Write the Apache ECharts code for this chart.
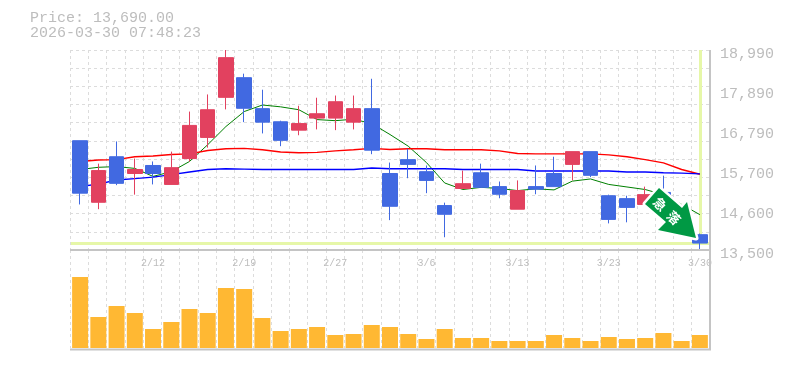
<!DOCTYPE html>
<html><head><meta charset="utf-8">
<style>html,body{margin:0;padding:0;background:#fff}#c{width:785px;height:370px}</style>
<script src="https://cdn.jsdelivr.net/npm/echarts@6/dist/echarts.min.js"></script>
</head><body><div id="c"></div>
<script>
var titleLines = ['Price: 13,690.00', '2026-03-30 07:48:23'];
var currentPrice = 13690;
var priceTicks = [13500, 14598, 15696, 16794, 17892, 18990];
var categories = ['2/5','2/6','2/9','2/10','2/12','2/13','2/16','2/17','2/18','2/19','2/20','2/24','2/25','2/26','2/27','3/2','3/3','3/4','3/5','3/6','3/9','3/10','3/11','3/12','3/13','3/16','3/17','3/18','3/19','3/23','3/24','3/25','3/26','3/27','3/30'];
var opens  = [16500,14810,16060,15600,15820,15300,16010,16590,17690,18230,17380,17020,16790,17120,17120,17010,17380,15600,15980,15650,14720,15190,15620,15240,14620,15240,15600,15850,16200,14990,14910,14750,15080,14470,13920];
var closes = [15060,15680,15330,15710,15600,15760,16920,17350,18780,17390,17010,16510,16970,17240,17570,17380,16240,14700,15850,15410,14480,15320,15220,15030,15130,15170,15240,16200,15550,14340,14670,15020,14750,14120,13690];
var highs  = [16500,15870,16480,16010,15930,16200,17300,17770,18990,18340,17900,17050,17460,17680,17740,17740,18200,15900,16280,15820,14800,15680,15870,15380,15410,15820,16060,16200,16200,15020,14990,15240,15540,14610,13950];
var lows   = [14750,14620,15280,15020,15300,15300,15930,16310,17360,17010,16700,16350,16650,16810,16790,16810,16130,14320,15470,15060,13850,15190,15220,14920,14620,15030,15240,15410,15500,14230,14260,14750,14600,14010,13510];
var maGreen = [15710,15770,15790,15740,15520,15650,15930,16390,16890,17300,17480,17430,17350,17080,17050,17090,16970,16670,16350,15900,15340,15160,15220,15190,15130,15180,15150,15390,15450,15300,15230,15160,15020,14750,14470];
var maRed = [15930,15970,15980,16060,16080,16120,16140,16230,16280,16290,16250,16190,16170,16180,16220,16250,16290,16260,16280,16280,16250,16250,16250,16220,16150,16140,16140,16140,16140,16110,16060,15980,15890,15710,15580];
var maBlue = [15240,15310,15420,15460,15500,15570,15640,15710,15730,15720,15710,15710,15710,15710,15710,15710,15750,15730,15730,15730,15730,15710,15710,15710,15710,15670,15670,15670,15670,15670,15640,15640,15620,15610,15590];
var volumes = [71,31,42,35,19,26,39,35,60,59,30,17,19,21,13,14,23,21,14,9,19,10,10,7,7,7,13,10,7,11,9,10,15,7,13];
var arrowLabel = '急\u2002落';

var GREY = '#bdbdbd', GRID = '#dcdcdc', UP = '#e2415f', DOWN = '#4169e1', MONO = '"Liberation Mono", monospace';
var candleData = categories.map(function (c, i) { return [opens[i], closes[i], lows[i], highs[i]]; });
var dashLine = { color: GRID, type: [3, 3], width: 1 };
var last = categories[categories.length - 1];
var arrowPoints = [[659, 188], [682, 208], [687, 202], [696, 238], [658, 230], [666, 222], [645, 204]];
var chart = echarts.init(document.getElementById('c'), null, { renderer: 'canvas' });

function lineSeries(data, color, width) {
  return { type: 'line', data: data, xAxisIndex: 2, yAxisIndex: 0, symbol: 'none', z: 4, silent: true,
    lineStyle: { color: color, width: width }, animation: false };
}
var hiddenCat = { axisLine: { show: false }, axisTick: { show: false }, axisLabel: { show: false } };
function gridCat(g) {
  return Object.assign({ type: 'category', gridIndex: g, data: categories, boundaryGap: true,
    splitLine: { show: true, interval: 0, lineStyle: dashLine } }, hiddenCat);
}
chart.setOption({
  animation: false,
  backgroundColor: '#fff',
  title: { text: titleLines.join('\n'), left: 25, top: 6,
    textStyle: { fontFamily: MONO, fontSize: 15, fontWeight: 'normal', color: GREY, lineHeight: 15 } },
  grid: [
    { left: 70, right: 75, top: 50, height: 200 },
    { left: 70, right: 75, top: 250, height: 98 },
    { left: 71, right: 76, top: 50, height: 200 },
    { left: 71, right: 76, top: 250, height: 98 }
  ],
  xAxis: [
    gridCat(0),
    gridCat(1),
    Object.assign({ type: 'category', gridIndex: 2, data: categories, boundaryGap: true, splitLine: { show: false } }, hiddenCat),
    { type: 'category', gridIndex: 3, data: categories, boundaryGap: true, position: 'top',
      axisLine: { show: false }, axisTick: { show: false }, splitLine: { show: false },
      axisLabel: { show: true, interval: function (i) { return i % 5 === 4; }, inside: true, margin: 8,
        fontFamily: MONO, fontSize: 10, color: GREY } }
  ],
  yAxis: [
    { type: 'value', gridIndex: 2, min: 13500, max: 18990, position: 'right',
      axisLine: { show: false }, axisTick: { show: false }, splitLine: { show: false },
      axisLabel: { show: true, customValues: priceTicks, margin: 11, fontFamily: MONO, fontSize: 15, color: GREY,
        verticalAlign: 'top', lineHeight: 8,
        formatter: function (v) { return (Math.round(v / 10) * 10).toLocaleString('en-US'); } } },
    { type: 'value', gridIndex: 0, min: 0, max: 11, interval: 1, position: 'left',
      axisLine: { show: false }, axisTick: { show: false }, axisLabel: { show: false },
      splitLine: { show: true, lineStyle: dashLine } },
    { type: 'value', gridIndex: 3, min: 0, max: 98, show: false, splitLine: { show: false } },
    { type: 'value', gridIndex: 1, min: 0, max: 98, show: false, splitLine: { show: false } }
  ],
  series: [
    { type: 'line', data: [], xAxisIndex: 2, yAxisIndex: 0, z: 1, silent: true,
      markLine: { silent: true, symbol: 'none', z: 1, animation: false, label: { show: false },
        lineStyle: { color: '#e6f7a8', width: 3, type: 'solid' },
        data: [{ yAxis: currentPrice }, [{ coord: [last, 18990] }, { coord: [last, currentPrice] }]] } },
    lineSeries(maGreen, '#008000', 1),
    lineSeries(maRed, '#ff0000', 1.4),
    lineSeries(maBlue, '#0000ff', 1.4),
    { type: 'candlestick', data: candleData, xAxisIndex: 2, yAxisIndex: 0, barWidth: 15, z: 5, silent: true, clip: false,
      itemStyle: { color: UP, color0: DOWN, borderColor: UP, borderColor0: DOWN, borderWidth: 1 } },
    { type: 'bar', data: volumes, xAxisIndex: 3, yAxisIndex: 2, barWidth: 16, silent: true,
      itemStyle: { color: '#ffb833' } }
  ],
  graphic: [
    { type: 'polyline', silent: true, z: 20, shape: { points: [[70, 250], [710, 250]] }, style: { stroke: '#c4c4c4', lineWidth: 2, fill: null } },
    { type: 'polyline', silent: true, z: 20, shape: { points: [[70, 349.5], [710, 349.5], [710, 50]] }, style: { stroke: '#c4c4c4', lineWidth: 2, fill: null } },
    { type: 'polygon', silent: true, z: 29, shape: { points: arrowPoints },
      style: { fill: '#ffffff', stroke: '#ffffff', lineWidth: 5, lineJoin: 'round' } },
    { type: 'polygon', silent: true, z: 30, shape: { points: arrowPoints }, style: { fill: '#009944' } },
    { type: 'text', silent: true, z: 31, x: 667, y: 211, rotation: -Math.PI / 4, originX: 0, originY: 0,
      style: { text: arrowLabel, fill: '#fff', font: 'bold 13px "Noto Sans CJK JP"', align: 'center', verticalAlign: 'middle' } }
  ]
});
</script></body></html>
